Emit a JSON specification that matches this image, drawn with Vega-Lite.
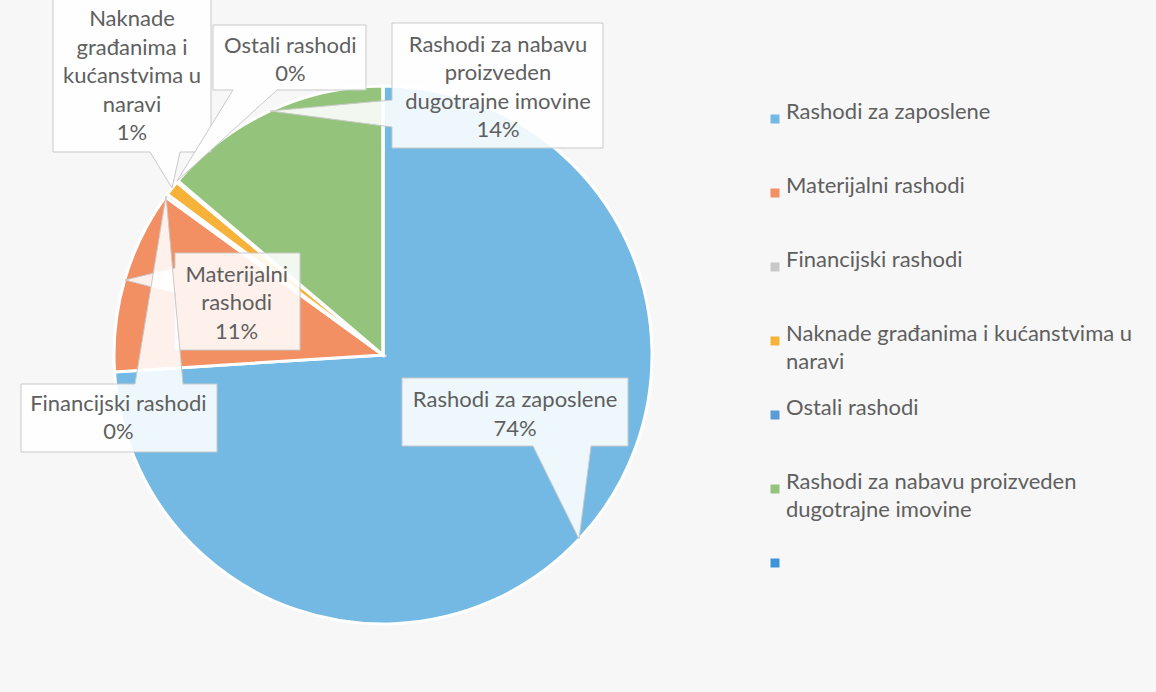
{
  "$schema": "https://vega.github.io/schema/vega-lite/v6.json",
  "width": 766,
  "height": 670,
  "autosize": {"type": "none"},
  "padding": {"left": 0, "top": 20, "right": 390, "bottom": 2},
  "background": "#f7f7f7",
  "config": {"view": {"stroke": null}, "style": {"guide-label": {"lineHeight": 28}}},
  "data": {
    "values": [
      {"idx": 1, "cat": "Rashodi za zaposlene", "value": 74, "label": "Rashodi za zaposlene\n74%"},
      {"idx": 2, "cat": "Materijalni rashodi", "value": 11, "label": "Materijalni\nrashodi\n11%"},
      {"idx": 3, "cat": "Financijski rashodi", "value": 0.2, "label": "Financijski rashodi\n0%"},
      {"idx": 4, "cat": "Naknade građanima i kućanstvima u naravi", "value": 0.9, "label": "Naknade\ngrađanima i\nkućanstvima u\nnaravi\n1%"},
      {"idx": 5, "cat": "Ostali rashodi", "value": 0.1, "label": "Ostali rashodi\n0%"},
      {"idx": 6, "cat": "Rashodi za nabavu proizveden dugotrajne imovine", "value": 13.8, "label": "Rashodi za nabavu\nproizveden\ndugotrajne imovine\n14%"},
      {"idx": 7, "cat": "", "value": 0, "label": ""}
    ]
  },
  "layer": [
    {
      "mark": {"type": "arc", "outerRadius": 269, "stroke": "white", "strokeWidth": 3},
      "encoding": {
        "theta": {"field": "value", "type": "quantitative", "stack": true},
        "order": {"field": "idx", "type": "quantitative"},
        "color": {
          "field": "cat", "type": "nominal",
          "scale": {
            "domain": ["Rashodi za zaposlene", "Materijalni rashodi", "Financijski rashodi", "Naknade građanima i kućanstvima u naravi", "Ostali rashodi", "Rashodi za nabavu proizveden dugotrajne imovine", ""],
            "range": ["#74b9e4", "#f28f63", "#c8c8c8", "#f7b23a", "#5b9cd6", "#94c47c", "#3f93db"]
          },
          "legend": {
            "title": null, "orient": "none", "legendX": 764, "legendY": 88,
            "symbolType": "square", "symbolSize": 81, "symbolStrokeWidth": 0,
            "labelFont": "Lato", "labelFontSize": 22, "labelColor": "#5f5f5f",
            "labelLimit": 400, "labelOffset": 0, "rowPadding": 24, "gridAlign": "all",
            "labelBaseline": "alphabetic",
            "labelExpr": "datum.label === 'Naknade građanima i kućanstvima u naravi' ? ['Naknade građanima i kućanstvima u', 'naravi'] : datum.label === 'Rashodi za nabavu proizveden dugotrajne imovine' ? ['Rashodi za nabavu proizveden', 'dugotrajne imovine'] : datum.label",
            "encode": {"labels": {"update": {"dy": {"value": 12}}}}
          }
        }
      }
    },
    {
      "mark": {"type": "point", "filled": true, "fill": "white", "fillOpacity": 0.88, "stroke": "#c9c9c9", "strokeWidth": 1, "opacity": 1, "size": 4},
      "encoding": {
        "shape": {
          "field": "idx", "type": "nominal", "legend": null,
          "scale": {
            "domain": [1, 2, 3, 4, 5, 6, 7],
            "range": [
              "M19,23H245V91H208L196,184L150,91H19Z",
              "M-208,-102H-83V-5H-208V-62L-258,-75L-208,-87Z",
              "M-362,29H-248L-217,-159L-200,29H-166V97H-362Z",
              "M-330,-380H-172V-203H-203L-211,-167L-233,-203H-330Z",
              "M-170,-330H-17V-265H-106L-206,-174L-150,-265H-170Z",
              "M9,-332H220V-207H9V-228L-113,-244L9,-255Z",
              "M0,0L0,0Z"
            ]
          }
        }
      }
    },
    {
      "mark": {"type": "text", "radius": 269, "dx": -64, "dy": -139, "font": "Lato", "fontSize": 22, "fill": "#5f5f5f", "lineBreak": "\n", "lineHeight": 28.5, "align": "center", "baseline": "middle"},
      "encoding": {
        "theta": {"field": "value", "type": "quantitative", "stack": true},
        "order": {"field": "idx", "type": "quantitative"},
        "detail": {"field": "cat", "type": "nominal"},
        "text": {"condition": {"test": "datum.cat === 'Rashodi za zaposlene'", "field": "label", "type": "nominal"}, "value": ""}
      }
    },
    {
      "mark": {"type": "text", "radius": 269, "dx": 112, "dy": -5, "font": "Lato", "fontSize": 22, "fill": "#5f5f5f", "lineBreak": "\n", "lineHeight": 28.5, "align": "center", "baseline": "middle"},
      "encoding": {
        "theta": {"field": "value", "type": "quantitative", "stack": true},
        "order": {"field": "idx", "type": "quantitative"},
        "detail": {"field": "cat", "type": "nominal"},
        "text": {"condition": {"test": "datum.cat === 'Materijalni rashodi'", "field": "label", "type": "nominal"}, "value": ""}
      }
    },
    {
      "mark": {"type": "text", "radius": 269, "dx": -48, "dy": 208, "font": "Lato", "fontSize": 22, "fill": "#5f5f5f", "lineBreak": "\n", "lineHeight": 28.5, "align": "center", "baseline": "middle"},
      "encoding": {
        "theta": {"field": "value", "type": "quantitative", "stack": true},
        "order": {"field": "idx", "type": "quantitative"},
        "detail": {"field": "cat", "type": "nominal"},
        "text": {"condition": {"test": "datum.cat === 'Financijski rashodi'", "field": "label", "type": "nominal"}, "value": ""}
      }
    },
    {
      "mark": {"type": "text", "radius": 269, "dx": -40, "dy": -169, "font": "Lato", "fontSize": 22, "fill": "#5f5f5f", "lineBreak": "\n", "lineHeight": 28.5, "align": "center", "baseline": "middle"},
      "encoding": {
        "theta": {"field": "value", "type": "quantitative", "stack": true},
        "order": {"field": "idx", "type": "quantitative"},
        "detail": {"field": "cat", "type": "nominal"},
        "text": {"condition": {"test": "datum.cat === 'Naknade građanima i kućanstvima u naravi'", "field": "label", "type": "nominal"}, "value": ""}
      }
    },
    {
      "mark": {"type": "text", "radius": 269, "dx": 113, "dy": -136, "font": "Lato", "fontSize": 22, "fill": "#5f5f5f", "lineBreak": "\n", "lineHeight": 28.5, "align": "center", "baseline": "middle"},
      "encoding": {
        "theta": {"field": "value", "type": "quantitative", "stack": true},
        "order": {"field": "idx", "type": "quantitative"},
        "detail": {"field": "cat", "type": "nominal"},
        "text": {"condition": {"test": "datum.cat === 'Ostali rashodi'", "field": "label", "type": "nominal"}, "value": ""}
      }
    },
    {
      "mark": {"type": "text", "radius": 269, "dx": 228, "dy": -66, "font": "Lato", "fontSize": 22, "fill": "#5f5f5f", "lineBreak": "\n", "lineHeight": 28.5, "align": "center", "baseline": "middle"},
      "encoding": {
        "theta": {"field": "value", "type": "quantitative", "stack": true},
        "order": {"field": "idx", "type": "quantitative"},
        "detail": {"field": "cat", "type": "nominal"},
        "text": {"condition": {"test": "datum.cat === 'Rashodi za nabavu proizveden dugotrajne imovine'", "field": "label", "type": "nominal"}, "value": ""}
      }
    }
  ]
}
